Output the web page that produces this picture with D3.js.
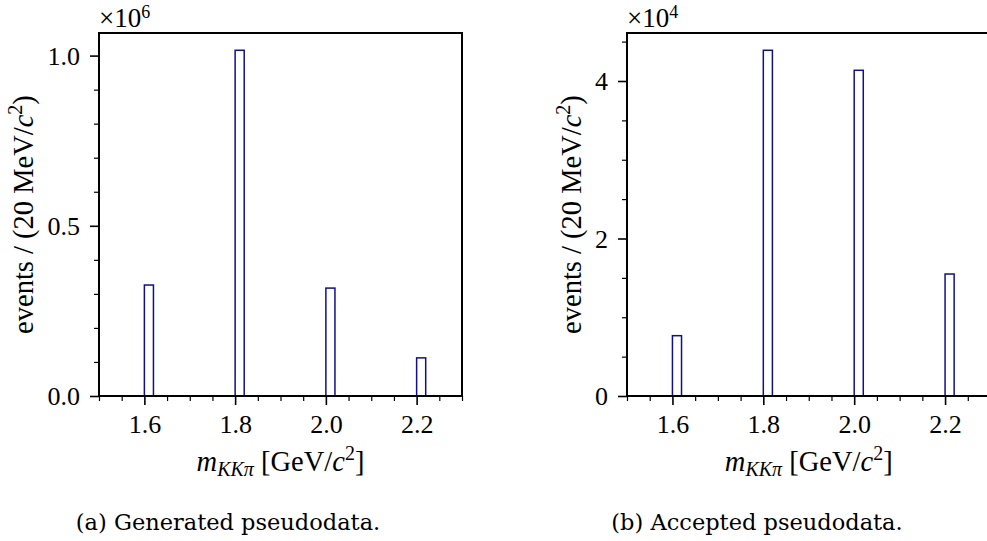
<!DOCTYPE html>
<html>
<head>
<meta charset="utf-8">
<script src="https://cdn.jsdelivr.net/npm/d3@7"></script>
<style>
  html, body { margin: 0; padding: 0; background: #fff; }
  svg { display: block; font-family: "Liberation Serif", "Times New Roman", serif; }
</style>
</head>
<body>
<svg id="chart" width="987" height="541"></svg>
<script>
// ---- data ----
const binLow = [1.60, 1.80, 2.00, 2.20];      // GeV/c^2, lower bin edges
const binWidth = 0.02;                         // 20 MeV/c^2
const generated = [326000, 1015600, 317000, 112000];
const accepted = [7660, 43900, 41360, 15490];
const xTickLabels = [1.6, 1.8, 2.0, 2.2];
const genTicks = [0.0, 0.5, 1.0];   // ×10^6
const accTicks = [0, 2, 4];         // ×10^4
const captions = ["(a) Generated pseudodata.", "(b) Accepted pseudodata."];

const svg = d3.select("#chart");
const plotTop = 33, plotBottom = 396;
const SERIF = "Liberation Serif, Times New Roman, serif";

function panel(opts) {
  const { left, right, values, scalePow, majorTicks, majorFmt, minorStep, caption, capX, labelX } = opts;
  const g = svg.append("g");
  const x = d3.scaleLinear().domain([1.5, 2.3]).range([left, right]);
  const maxV = d3.max(values) / Math.pow(10, scalePow);
  const y = d3.scaleLinear().domain([0, maxV * 1.05]).range([plotBottom, plotTop]);

  // bars
  g.selectAll("rect.bar").data(binLow.map((b, i) => ({ b, v: values[i] / Math.pow(10, scalePow) })))
    .enter().append("rect")
    .attr("x", d => x(d.b))
    .attr("width", d => x(d.b + binWidth) - x(d.b))
    .attr("y", d => y(d.v))
    .attr("height", d => y(0) - y(d.v))
    .attr("fill", "none")
    .attr("stroke", "#10108a")
    .attr("stroke-width", 1.5);

  // minor ticks
  const xMinor = d3.range(1.5, 2.3001, 0.05).map(v => +v.toFixed(3)).filter(v => !xTickLabels.some(t => Math.abs(t - v) < 1e-6));
  const yMinor = d3.range(0, maxV * 1.05, minorStep).map(v => +v.toFixed(3)).filter(v => !majorTicks.some(t => Math.abs(t - v) < 1e-6));

  const xMinAxis = d3.axisBottom(x).tickValues(xMinor).tickFormat("").tickSize(5).tickSizeOuter(0);
  const yMinAxis = d3.axisLeft(y).tickValues(yMinor).tickFormat("").tickSize(5).tickSizeOuter(0);
  const xMajAxis = d3.axisBottom(x).tickValues(xTickLabels).tickFormat(d3.format(".1f")).tickSize(9).tickSizeOuter(0);
  const yMajAxis = d3.axisLeft(y).tickValues(majorTicks).tickFormat(majorFmt).tickSize(9).tickPadding(10).tickSizeOuter(0);

  const styleAxis = (sel, w) => {
    sel.select(".domain").remove();
    sel.selectAll("line").attr("stroke", "#000").attr("stroke-width", w);
    sel.selectAll("text").attr("font-size", 26).attr("fill", "#000").attr("font-family", SERIF);
  };
  g.append("g").attr("transform", `translate(0,${plotBottom})`).call(xMinAxis).call(s => styleAxis(s, 1.2));
  g.append("g").attr("transform", `translate(${left},0)`).call(yMinAxis).call(s => styleAxis(s, 1.2));
  const xa = g.append("g").attr("transform", `translate(0,${plotBottom})`).call(xMajAxis).call(s => styleAxis(s, 1.6));
  xa.selectAll("text").attr("dy", null).attr("y", 37);
  const ya = g.append("g").attr("transform", `translate(${left},0)`).call(yMajAxis).call(s => styleAxis(s, 1.6));
  ya.selectAll("text").attr("dy", "0.33em");

  // frame
  g.append("rect").attr("x", left).attr("y", plotTop).attr("width", right - left).attr("height", plotBottom - plotTop)
    .attr("fill", "none").attr("stroke", "#000").attr("stroke-width", 2);

  // offset text ×10^n
  const off = g.append("text").attr("x", left).attr("y", 27).attr("font-size", 27).attr("font-family", SERIF);
  off.append("tspan").text("×10");
  off.append("tspan").attr("font-size", 18).attr("dy", -9).text(String(scalePow));

  // x label
  const xl = g.append("text").attr("x", (left + right) / 2).attr("y", 471)
    .attr("text-anchor", "middle").attr("font-size", 28.5).attr("font-family", SERIF);
  xl.append("tspan").attr("font-style", "italic").text("m");
  xl.append("tspan").attr("font-style", "italic").attr("font-size", 20).attr("dy", 5).text("KKπ");
  xl.append("tspan").attr("dy", -5).text(" [GeV/");
  xl.append("tspan").attr("font-style", "italic").text("c");
  xl.append("tspan").attr("font-size", 20).attr("dy", -11).text("2");
  xl.append("tspan").attr("dy", 11).text("]");

  // y label
  const yl = g.append("text").attr("transform", `translate(${labelX},${(plotTop + plotBottom) / 2}) rotate(-90)`)
    .attr("text-anchor", "middle").attr("font-size", 28.5).attr("font-family", SERIF);
  yl.append("tspan").text("events / (20 MeV/");
  yl.append("tspan").attr("font-style", "italic").text("c");
  yl.append("tspan").attr("font-size", 20).attr("dy", -11).text("2");
  yl.append("tspan").attr("dy", 11).text(")");

  // caption
  svg.append("text").attr("x", capX).attr("y", 530)
    .attr("text-anchor", "middle").attr("font-size", 22.5)
    .attr("font-family", "DejaVu Serif, serif").text(caption);
}

panel({ left: 99, right: 462, values: generated, scalePow: 6, majorTicks: genTicks,
  majorFmt: d3.format(".1f"), minorStep: 0.1, caption: captions[0], capX: 228, labelX: 33 });
panel({ left: 627, right: 990.5, values: accepted, scalePow: 4, majorTicks: accTicks,
  majorFmt: d3.format("d"), minorStep: 0.5, caption: captions[1], capX: 757, labelX: 581 });
</script>
</body>
</html>
